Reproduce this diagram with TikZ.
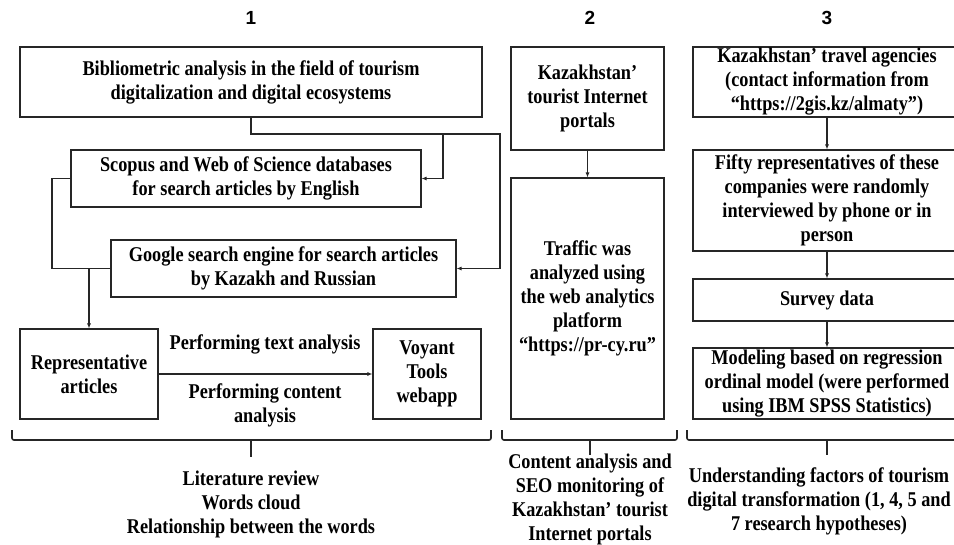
\documentclass[tikz,border=0pt]{standalone}
\usepackage{fontspec}
\setmainfont[FakeStretch=0.87]{Liberation Serif}
\newfontfamily\headfont{Liberation Sans}
\usetikzlibrary{arrows.meta}

\begin{document}
\begin{tikzpicture}[
  x=1pt, y=-1pt,
  font=\bfseries\fontsize{21}{24}\selectfont,
  box/.style={
    draw=black!85, line width=1.1pt, align=center,
    inner sep=2pt, fill=white
  },
  fleche/.style={
    -{Latex[length=5pt, width=4pt]},
    line width=1.1pt, draw=black!85
  },
  ligne/.style={line width=1.1pt, draw=black!85},
  accolade/.style={line width=1.6pt, draw=black!85, rounded corners=2pt},
  titre/.style={font=\headfont\bfseries\fontsize{19}{20}\selectfont},
  note/.style={align=center}
]
  \useasboundingbox (0,0) rectangle (954,544);

  \node[titre] (t1) at (251,18) {1};
  \node[titre] (t2) at (590,18) {2};
  \node[titre] (t3) at (827,18) {3};

  \node[box, minimum width=462pt, minimum height=70pt] (bib) at (251,82)
    {Bibliometric analysis in the field of tourism\\digitalization and digital ecosystems};
  \node[box, minimum width=350pt, minimum height=57pt] (scopus) at (246,178.5)
    {Scopus and Web of Science databases\\for search articles by English};
  \node[box, minimum width=345pt, minimum height=57pt] (google) at (283.5,268.5)
    {Google search engine for search articles\\by Kazakh and Russian};
  \node[box, minimum width=138pt, minimum height=90pt] (rep) at (89,374)
    {Representative\\articles};
  \node[box, minimum width=108pt, minimum height=90pt] (voyant) at (427,374)
    {Voyant\\Tools\\webapp};

  \node[box, minimum width=153pt, minimum height=103pt] (portals) at (587.5,98.5)
    {Kazakhstan'\\tourist Internet\\portals};
  \node[box, minimum width=153pt, minimum height=241pt] (traffic) at (587.5,298.5)
    {Traffic was\\analyzed using\\the web analytics\\platform\\``https://pr-cy.ru''};

  \node[box, minimum width=268pt, minimum height=70pt, inner sep=0pt] (agencies) at (827,82)
    {Kazakhstan' travel agencies\\(contact information from\\``https://2gis.kz/almaty'')};
  \node[box, minimum width=268pt, minimum height=101pt, inner sep=0pt] (fifty) at (827,200.5)
    {Fifty representatives of these\\companies were randomly\\interviewed by phone or in\\person};
  \node[box, minimum width=268pt, minimum height=42pt] (survey) at (827,300)
    {Survey data};
  \node[box, minimum width=268pt, minimum height=71pt, inner sep=0pt] (model) at (827,383.5)
    {Modeling based on regression\\ordinal model (were performed\\using IBM SPSS Statistics)};

  \coordinate (j1) at (443,134);
  \coordinate (j2) at (500,134);
  \coordinate (j3) at (52,268.5);
  \coordinate (j4) at (89,268.5);

  \draw[fleche] (bib.south) |- (j2) |- (google.east);
  \draw[fleche] (j1) |- (scopus.east);
  \draw[ligne] (scopus.west) -| (j3) -- (google.west);
  \draw[fleche] (j4) -- (rep.north);
  \draw[fleche] (rep.east) -- (voyant.west);
  \draw[fleche] (portals.south) -- (traffic.north);
  \draw[fleche] (agencies.south) -- (fifty.north);
  \draw[fleche] (fifty.south) -- (survey.north);
  \draw[fleche] (survey.south) -- (model.north);

  \node[note] (txt) at (265,344) {Performing text analysis};
  \node[note] (cont) at (265,405) {Performing content\\analysis};

  \draw[accolade] (12,430) -- (12,440) -- (491,440) -- (491,430);
  \draw[accolade] (251,440) -- (251,457);
  \draw[accolade] (502,430) -- (502,440) -- (677,440) -- (677,430);
  \draw[accolade] (590,440) -- (590,455);
  \draw[accolade] (687,430) -- (687,440) -- (960,440);
  \draw[accolade] (827,440) -- (827,455);

  \node[note] (lit) at (251,504)
    {Literature review\\Words cloud\\Relationship between the words};
  \node[note] (seo) at (590,499.5)
    {Content analysis and\\SEO monitoring of\\Kazakhstan' tourist\\Internet portals};
  \node[note] (under) at (819,501)
    {Understanding factors of tourism\\digital transformation (1, 4, 5 and\\7 research hypotheses)};
\end{tikzpicture}
\end{document}
